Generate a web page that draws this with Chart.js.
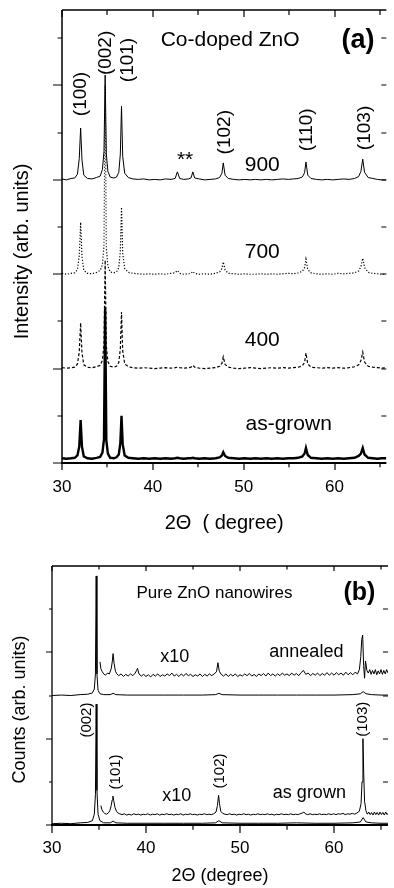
<!DOCTYPE html>
<html>
<head>
<meta charset="utf-8">
<script src="https://cdn.jsdelivr.net/npm/chart.js@4.4.1/dist/chart.umd.min.js"></script>
<style>
  html, body { margin: 0; padding: 0; background: #fff; }
  #wrap { position: relative; width: 394px; height: 888px; }
  #wrap canvas { position: absolute; left: 0; }
  #chartA { top: 0; }
  #chartB { top: 540px; }
</style>
</head>
<body>
<div id="wrap">
  <canvas id="chartA" width="394" height="540"></canvas>
  <canvas id="chartB" width="394" height="348"></canvas>
</div>
<script>
// ---- panel (a): Co-doped ZnO, offsets in units of one y tick ----
const xLabels = [30, 40, 50, 60];
const xTicks = [30, 35, 40, 45, 50, 55, 60, 65];
const yTicksA = [0, 1, 2, 3, 4, 5, 6, 7, 8, 9];
const yTicksB = [0, 1, 2, 3, 4, 5];

const angleA = [
  30.0, 30.5, 31.0, 31.4, 31.7, 31.9, 32.05, 32.2, 32.4, 32.8,
  33.3, 33.8, 34.2, 34.45, 34.62, 34.75, 34.88, 35.05, 35.3, 35.7,
  36.0, 36.25, 36.42, 36.55, 36.68, 36.9, 37.3, 37.8, 38.4, 39.0,
  39.6, 40.2, 40.8, 41.4, 42.0, 42.45, 42.7, 42.95, 43.4, 43.9,
  44.2, 44.4, 44.6, 45.1, 45.7, 46.3, 46.9, 47.35, 47.6, 47.75,
  47.95, 48.3, 48.9, 49.5, 50.1, 50.7, 51.3, 51.9, 52.5, 53.1,
  53.7, 54.3, 54.9, 55.5, 56.0, 56.45, 56.7, 56.85, 57.05, 57.4,
  58.0, 58.6, 59.2, 59.8, 60.4, 61.0, 61.6, 62.2, 62.65, 62.9,
  63.1, 63.3, 63.7, 64.2, 64.7, 65.2, 65.7
];
const int900 = [
  6.02, 6.0, 6.03, 6.04, 6.12, 6.45, 7.1, 6.42, 6.1, 6.03,
  6.02, 6.05, 6.08, 6.22, 6.6, 8.22, 6.55, 6.18, 6.06, 6.04,
  6.06, 6.16, 6.55, 7.56, 6.5, 6.14, 6.05, 6.02, 6.01, 6.02,
  6.0, 6.01, 6.0, 6.02, 6.01, 6.03, 6.17, 6.03, 6.01, 6.02,
  6.04, 6.17, 6.04, 6.02, 6.0, 6.01, 6.02, 6.05, 6.14, 6.36,
  6.1, 6.03, 6.01, 6.0, 6.01, 6.0, 6.01, 6.0, 6.01, 6.0,
  6.01, 6.02, 6.01, 6.02, 6.03, 6.06, 6.15, 6.38, 6.1, 6.03,
  6.01, 6.0, 6.01, 6.0, 6.01, 6.02, 6.01, 6.03, 6.07, 6.18,
  6.44, 6.16, 6.05, 6.03, 6.01, 6.0, 6.0
];
const int700 = [
  4.02, 4.0, 4.02, 4.03, 4.1, 4.4, 5.1, 4.38, 4.08, 4.02,
  4.01, 4.04, 4.08, 4.2, 4.6, 8.0, 4.55, 4.17, 4.05, 4.03,
  4.05, 4.14, 4.5, 5.42, 4.45, 4.12, 4.04, 4.02, 4.01, 4.0,
  4.01, 4.0, 4.01, 4.0, 4.02, 4.03, 4.08, 4.02, 4.0, 4.01,
  4.02, 4.06, 4.02, 4.0, 4.01, 4.0, 4.02, 4.05, 4.12, 4.26,
  4.09, 4.02, 4.01, 4.0, 4.01, 4.0, 4.0, 4.01, 4.0, 4.01,
  4.0, 4.01, 4.02, 4.01, 4.03, 4.06, 4.14, 4.32, 4.1, 4.03,
  4.01, 4.0, 4.01, 4.0, 4.02, 4.01, 4.02, 4.03, 4.07, 4.16,
  4.34, 4.14, 4.04, 4.02, 4.01, 4.0, 4.01
];
const int400 = [
  2.02, 2.01, 2.02, 2.03, 2.1, 2.35, 2.97, 2.33, 2.08, 2.03,
  2.02, 2.04, 2.07, 2.18, 2.5, 4.3, 2.48, 2.15, 2.05, 2.03,
  2.05, 2.13, 2.42, 3.2, 2.38, 2.1, 2.04, 2.02, 2.01, 2.02,
  2.01, 2.0, 2.01, 2.02, 2.01, 2.02, 2.03, 2.02, 2.01, 2.02,
  2.03, 2.07, 2.03, 2.01, 2.0, 2.01, 2.02, 2.05, 2.11, 2.25,
  2.09, 2.03, 2.01, 2.0, 2.01, 2.02, 2.01, 2.0, 2.01, 2.02,
  2.01, 2.02, 2.01, 2.02, 2.03, 2.06, 2.13, 2.33, 2.1, 2.03,
  2.02, 2.01, 2.02, 2.01, 2.02, 2.01, 2.02, 2.04, 2.08, 2.17,
  2.35, 2.14, 2.05, 2.03, 2.02, 2.01, 2.02
];
const intGrown = [
  0.1, 0.09, 0.1, 0.11, 0.16, 0.35, 0.91, 0.34, 0.14, 0.1,
  0.09, 0.11, 0.13, 0.22, 0.5, 3.28, 0.48, 0.2, 0.11, 0.1,
  0.12, 0.18, 0.42, 1.0, 0.4, 0.16, 0.11, 0.1, 0.09, 0.1,
  0.09, 0.1, 0.09, 0.1, 0.09, 0.1, 0.11, 0.1, 0.09, 0.1,
  0.1, 0.11, 0.1, 0.09, 0.1, 0.09, 0.1, 0.12, 0.16, 0.23,
  0.15, 0.11, 0.1, 0.09, 0.1, 0.09, 0.1, 0.09, 0.1, 0.09,
  0.1, 0.09, 0.1, 0.1, 0.11, 0.14, 0.2, 0.32, 0.17, 0.11,
  0.1, 0.09, 0.1, 0.09, 0.1, 0.09, 0.1, 0.11, 0.15, 0.2,
  0.32, 0.18, 0.11, 0.1, 0.09, 0.1, 0.1
];

// ---- panel (b): pure ZnO nanowires ----
const angleB = [
  30, 31, 32, 33, 33.8, 34.3, 34.5, 34.62, 34.7, 34.78,
  34.9, 35.1, 35.5, 36.2, 36.5, 36.8, 38, 40, 42, 44,
  46, 47.4, 47.75, 48.1, 50, 52, 54, 56, 58, 60,
  62, 62.8, 63.1, 63.4, 64, 65, 65.8
];
const countsGrown = [
  0.03, 0.04, 0.03, 0.05, 0.06, 0.1, 0.25, 0.7, 2.8, 0.8,
  0.25, 0.1, 0.05, 0.05, 0.09, 0.05, 0.04, 0.04, 0.04, 0.04,
  0.04, 0.05, 0.1, 0.05, 0.04, 0.04, 0.04, 0.05, 0.04, 0.04,
  0.05, 0.07, 0.17, 0.07, 0.05, 0.04, 0.04
];
const countsAnnealed = [
  3.0, 3.01, 3.0, 3.02, 3.03, 3.06, 3.15, 3.5, 5.77, 3.5,
  3.12, 3.04, 3.02, 3.02, 3.05, 3.02, 3.01, 3.01, 3.01, 3.01,
  3.01, 3.02, 3.05, 3.02, 3.01, 3.01, 3.01, 3.01, 3.01, 3.01,
  3.02, 3.04, 3.09, 3.04, 3.02, 3.01, 3.01
];
const grownX10 = [
  [35.2,0.45],[35.3,0.36],[35.45,0.3],[35.6,0.27],[35.8,0.25],[36.0,0.28],[36.15,0.33],[36.3,0.45],[36.4,0.58],[36.48,0.67],
  [36.56,0.57],[36.7,0.41],[36.85,0.32],[37.0,0.28],[37.2,0.26],[37.45,0.24],[37.7,0.26],[37.95,0.23],[38.2,0.25],[38.45,0.23],
  [38.7,0.26],[38.95,0.24],[39.2,0.25],[39.45,0.23],[39.7,0.25],[39.95,0.24],[40.2,0.26],[40.45,0.23],[40.7,0.25],[40.95,0.24],
  [41.2,0.26],[41.45,0.23],[41.7,0.25],[41.95,0.24],[42.2,0.26],[42.45,0.24],[42.7,0.25],[42.95,0.23],[43.2,0.25],[43.45,0.24],
  [43.7,0.26],[43.95,0.23],[44.2,0.25],[44.45,0.24],[44.7,0.26],[44.95,0.24],[45.2,0.25],[45.45,0.23],[45.7,0.25],[45.95,0.24],
  [46.2,0.26],[46.45,0.24],[46.7,0.25],[46.95,0.24],[47.2,0.26],[47.45,0.3],[47.6,0.45],[47.72,0.69],[47.82,0.5],[47.95,0.32],
  [48.15,0.27],[48.4,0.25],[48.65,0.24],[48.9,0.26],[49.15,0.24],[49.4,0.25],[49.65,0.23],[49.9,0.25],[50.15,0.24],[50.4,0.26],
  [50.65,0.24],[50.9,0.25],[51.15,0.23],[51.4,0.25],[51.65,0.24],[51.9,0.26],[52.15,0.24],[52.4,0.25],[52.65,0.24],[52.9,0.26],
  [53.15,0.24],[53.4,0.25],[53.65,0.23],[53.9,0.25],[54.15,0.24],[54.4,0.26],[54.65,0.24],[54.9,0.25],[55.15,0.24],[55.4,0.26],
  [55.65,0.24],[55.9,0.25],[56.15,0.24],[56.4,0.26],[56.65,0.28],[56.8,0.3],[56.95,0.26],[57.2,0.24],[57.45,0.26],[57.7,0.24],
  [57.95,0.25],[58.2,0.24],[58.45,0.26],[58.7,0.24],[58.95,0.25],[59.2,0.24],[59.45,0.26],[59.7,0.24],[59.95,0.26],[60.2,0.24],
  [60.45,0.26],[60.7,0.25],[60.95,0.27],[61.2,0.24],[61.45,0.26],[61.7,0.25],[61.95,0.27],[62.2,0.25],[62.45,0.28],[62.7,0.32],
  [62.88,0.5],[62.98,1.0],[63.08,2.0],[63.16,1.2],[63.25,0.55],[63.4,0.33],[63.55,0.25],[63.7,0.3],[63.85,0.24],[64.0,0.29],
  [64.15,0.23],[64.3,0.3],[64.45,0.24],[64.6,0.29],[64.75,0.23],[64.9,0.3],[65.05,0.24],[65.2,0.29],[65.35,0.23],[65.5,0.3],
  [65.65,0.24],[65.8,0.28]
];
const annealedX10 = [
  [35.1,3.78],[35.2,3.62],[35.35,3.55],[35.5,3.5],[35.7,3.47],[35.9,3.52],[36.1,3.5],[36.3,3.62],[36.42,3.8],[36.5,3.97],
  [36.6,3.75],[36.75,3.56],[36.9,3.5],[37.1,3.46],[37.35,3.5],[37.6,3.44],[37.85,3.49],[38.1,3.45],[38.35,3.5],[38.6,3.46],
  [38.85,3.52],[39.0,3.58],[39.1,3.63],[39.25,3.5],[39.5,3.45],[39.75,3.49],[40.0,3.44],[40.25,3.48],[40.5,3.43],[40.75,3.49],
  [41.0,3.45],[41.25,3.5],[41.5,3.44],[41.75,3.48],[42.0,3.45],[42.25,3.5],[42.5,3.46],[42.75,3.52],[43.0,3.45],[43.25,3.49],
  [43.5,3.44],[43.75,3.5],[44.0,3.45],[44.25,3.51],[44.5,3.46],[44.75,3.49],[45.0,3.44],[45.25,3.48],[45.5,3.45],[45.75,3.5],
  [46.0,3.44],[46.25,3.49],[46.5,3.45],[46.75,3.5],[47.0,3.46],[47.25,3.5],[47.5,3.55],[47.65,3.76],[47.8,3.56],[48.0,3.49],
  [48.25,3.45],[48.5,3.5],[48.75,3.44],[49.0,3.49],[49.25,3.45],[49.5,3.5],[49.75,3.44],[50.0,3.48],[50.25,3.45],[50.5,3.5],
  [50.75,3.46],[51.0,3.51],[51.25,3.45],[51.5,3.49],[51.75,3.44],[52.0,3.5],[52.25,3.46],[52.5,3.51],[52.75,3.45],[53.0,3.52],
  [53.25,3.46],[53.5,3.5],[53.75,3.45],[54.0,3.5],[54.25,3.46],[54.5,3.52],[54.75,3.47],[55.0,3.5],[55.25,3.46],[55.5,3.52],
  [55.75,3.47],[56.0,3.51],[56.25,3.46],[56.5,3.53],[56.75,3.58],[57.0,3.49],[57.25,3.52],[57.5,3.46],[57.75,3.51],[58.0,3.47],
  [58.25,3.52],[58.5,3.46],[58.75,3.51],[59.0,3.47],[59.25,3.53],[59.5,3.47],[59.75,3.52],[60.0,3.47],[60.25,3.53],[60.5,3.48],
  [60.75,3.52],[61.0,3.47],[61.25,3.54],[61.5,3.48],[61.75,3.53],[62.0,3.48],[62.25,3.54],[62.5,3.5],[62.7,3.6],[62.85,3.9],
  [62.95,4.3],[63.05,4.4],[63.15,3.7],[63.25,3.4],[63.35,3.8],[63.5,3.58],[63.65,3.52],[63.8,3.6],[63.95,3.49],[64.1,3.58],
  [64.25,3.5],[64.4,3.6],[64.55,3.48],[64.7,3.57],[64.85,3.5],[65.0,3.6],[65.15,3.49],[65.3,3.58],[65.45,3.5],[65.6,3.6],
  [65.75,3.52]
];

const FONT = "'Liberation Sans', Arial, Helvetica, sans-serif";

// text placed at data coordinates
const notesA = [
  { text: 'Co-doped ZnO', x: 40.86, y: 8.96, size: 21, align: 'left' },
  { text: '(a)', x: 62.58, y: 8.96, size: 27, bold: true },
  { text: '(100)', x: 32.04, y: 7.82, size: 19, rot: true },
  { text: '(002)', x: 34.84, y: 8.69, size: 19, rot: true },
  { text: '(101)', x: 37.2, y: 8.54, size: 19, rot: true },
  { text: '**', x: 43.55, y: 6.42, size: 21 },
  { text: '(102)', x: 47.96, y: 7.01, size: 19, rot: true },
  { text: '(110)', x: 56.99, y: 7.06, size: 19, rot: true },
  { text: '(103)', x: 63.33, y: 7.1, size: 19, rot: true },
  { text: '900', x: 52.04, y: 6.31, size: 21 },
  { text: '700', x: 52.04, y: 4.47, size: 21 },
  { text: '400', x: 52.04, y: 2.61, size: 21 },
  { text: 'as-grown', x: 54.95, y: 0.83, size: 21 }
];
const notesB = [
  { text: 'Pure ZnO nanowires', x: 38.99, y: 5.37, size: 17, align: 'left' },
  { text: '(b)', x: 62.71, y: 5.37, size: 25, bold: true },
  { text: 'x10', x: 43.06, y: 3.89, size: 18 },
  { text: 'annealed', x: 57.06, y: 4.0, size: 18 },
  { text: 'x10', x: 43.27, y: 0.67, size: 18 },
  { text: 'as grown', x: 57.38, y: 0.74, size: 18 },
  { text: '(002)', x: 33.66, y: 2.43, size: 15, rot: true },
  { text: '(101)', x: 36.79, y: 1.23, size: 15, rot: true },
  { text: '(102)', x: 47.87, y: 1.25, size: 15, rot: true },
  { text: '(103)', x: 63.12, y: 2.45, size: 15, rot: true }
];

Chart.defaults.font.family = FONT;
Chart.defaults.color = '#000';

const frameTicks = {
  id: 'frameTicks',
  afterDraw(chart, args, o) {
    const { ctx, chartArea: a, scales: { x, y } } = chart;
    ctx.save();
    ctx.strokeStyle = '#000';
    ctx.lineWidth = o.spine;
    ctx.beginPath();
    ctx.moveTo(a.left, a.top); ctx.lineTo(a.left, a.bottom);
    ctx.moveTo(a.left, a.top); ctx.lineTo(a.right, a.top);
    ctx.stroke();
    ctx.lineWidth = o.base;
    ctx.beginPath();
    ctx.moveTo(a.left - 1, a.bottom); ctx.lineTo(a.right, a.bottom);
    ctx.stroke();
    ctx.lineWidth = 1.2;
    ctx.beginPath();
    xTicks.forEach(v => {
      const px = Math.round(x.getPixelForValue(v));
      const major = v % 10 === 0;
      ctx.moveTo(px, a.bottom); ctx.lineTo(px, a.bottom + (major ? o.xOut : o.xOut * 0.6));
      ctx.moveTo(px, a.top); ctx.lineTo(px, a.top + (major ? o.topIn : o.topIn * 0.7));
    });
    o.yTicks.forEach(v => {
      const py = Math.round(y.getPixelForValue(v));
      const major = v % 2 === 0;
      ctx.moveTo(a.left, py); ctx.lineTo(a.left - (major ? o.yOut : o.yOut * 0.5), py);
      if (v > 0) { ctx.moveTo(a.right, py); ctx.lineTo(a.right - o.rightIn, py); }
    });
    ctx.stroke();
    ctx.restore();
  }
};

const notesPlugin = {
  id: 'notes',
  afterDraw(chart, args, o) {
    const { ctx, chartArea: a, scales: { x, y } } = chart;
    ctx.save();
    ctx.fillStyle = '#000';
    ctx.textBaseline = 'middle';
    o.items.forEach(n => {
      ctx.save();
      ctx.translate(x.getPixelForValue(n.x), y.getPixelForValue(n.y));
      if (n.rot) ctx.rotate(-Math.PI / 2);
      ctx.font = (n.bold ? 'bold ' : '') + n.size + 'px ' + FONT;
      ctx.textAlign = n.align || 'center';
      ctx.fillText(n.text, 0, 0);
      ctx.restore();
    });
    // rotated y axis title
    ctx.translate(o.yTitleX, (a.top + a.bottom) / 2 + o.yTitleDy);
    ctx.rotate(-Math.PI / 2);
    ctx.textAlign = 'center';
    ctx.font = o.yTitleSize + 'px ' + FONT;
    ctx.fillText(o.yTitle, 0, 0);
    ctx.restore();
  }
};

const pts = (xs, ys) => xs.map((t, i) => ({ x: t, y: ys[i] }));
const pairs = arr => arr.map(p => ({ x: p[0], y: p[1] }));

function line(data, width, dash) {
  return { data, borderColor: '#000', borderWidth: width, borderDash: dash || [],
    pointRadius: 0, fill: false, tension: 0 };
}

function build(id, cfg) {
  new Chart(document.getElementById(id), {
    type: 'line',
    data: { datasets: cfg.datasets },
    plugins: [frameTicks, notesPlugin],
    options: {
      responsive: false,
      animation: false,
      events: [],
      layout: { padding: { top: cfg.top, left: 0, right: 0, bottom: 0 } },
      plugins: {
        legend: { display: false },
        tooltip: { enabled: false },
        frameTicks: cfg.frame,
        notes: cfg.notes
      },
      scales: {
        x: {
          type: 'linear', min: 30, max: cfg.xMax,
          afterFit: s => { s.height = cfg.xHeight; },
          grid: { display: false, drawTicks: false },
          border: { display: false },
          ticks: {
            stepSize: 5, includeBounds: false, autoSkip: false, maxRotation: 0,
            padding: cfg.tickPad, font: { size: cfg.tickSize },
            callback: v => xLabels.includes(v) ? String(v) : ''
          },
          title: { display: true, text: cfg.xTitle, font: { size: cfg.xTitleSize },
            padding: { top: 0, bottom: cfg.xTitlePad } }
        },
        y: {
          type: 'linear', min: 0, max: cfg.yMax,
          afterFit: s => { s.width = cfg.yWidth; },
          grid: { display: false, drawTicks: false },
          border: { display: false },
          ticks: { display: false }
        }
      }
    }
  });
}

build('chartA', {
  top: 10, xMax: 65.7, xHeight: 77, yWidth: 62, yMax: 9.6,
  tickPad: 14, tickSize: 17, xTitle: '2\u0398  ( degree)', xTitleSize: 20, xTitlePad: 5,
  datasets: [
    line(pts(angleA, int900), 1),
    line(pts(angleA, int700), 1.2, [1.2, 1.8]),
    line(pts(angleA, int400), 1.2, [3, 2]),
    line(pts(angleA, intGrown), 2.4)
  ],
  frame: { spine: 1.5, base: 2, xOut: 7, topIn: 7, yOut: 9, rightIn: 5, yTicks: yTicksA },
  notes: { items: notesA, yTitle: 'Intensity (arb. units)', yTitleX: 22, yTitleDy: 15, yTitleSize: 20 }
});

build('chartB', {
  top: 26, xMax: 65.74, xHeight: 63, yWidth: 52, yMax: 6.0,
  tickPad: 13, tickSize: 17, xTitle: '2\u0398 (degree)', xTitleSize: 18, xTitlePad: 1,
  datasets: [
    line(pts(angleB, countsAnnealed), 1),
    line(pairs(annealedX10), 1),
    line(pts(angleB, countsGrown), 1),
    line(pairs(grownX10), 1)
  ],
  frame: { spine: 1.3, base: 1.8, xOut: 8, topIn: 5, yOut: 6, rightIn: 5, yTicks: yTicksB },
  notes: { items: notesB, yTitle: 'Counts (arb. units)', yTitleX: 20, yTitleDy: 14, yTitleSize: 18 }
});
</script>
</body>
</html>
